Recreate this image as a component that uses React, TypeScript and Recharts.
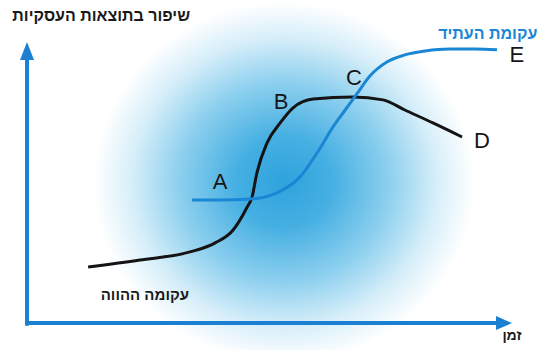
import React from 'react';
import { LineChart, Line, XAxis, YAxis, ReferenceLine, ReferenceDot } from 'recharts';

// Current curve (black) – time vs. business performance
const timeCurrent = [12.6, 23.3, 33.6, 38.8, 42.5, 45.4, 46.4, 47.4, 49.5, 52.2, 54.8, 59.0, 67.2, 73.4, 77.9, 83.7, 89.7];
const perfCurrent = [19.9, 22.4, 25.3, 28.5, 33.1, 41.3, 44.8, 53.4, 64.1, 71.2, 76.5, 79.7, 80.4, 79.4, 75.8, 71.2, 66.2];

// Future curve (blue)
const timeFuture = [34.0, 39.8, 46.0, 51.5, 56.3, 59.8, 63.1, 65.6, 68.0, 70.7, 74.2, 77.9, 82.1, 87.2, 92.4, 96.9];
const perfFuture = [43.8, 43.8, 44.1, 46.3, 52.0, 60.5, 69.8, 75.8, 81.5, 87.9, 92.9, 95.4, 96.8, 97.5, 97.5, 97.2];

// Point labels
const pointNames = ['A', 'B', 'C', 'D', 'E'];
const pointTime = [39.8, 52.4, 67.4, 93.8, 101.0];
const pointPerf = [50.5, 79.0, 87.5, 65.1, 95.4];

const titleY = 'שיפור בתוצאות העסקיות';
const titleX = 'זמן';
const nameFuture = 'עקומת העתיד';
const nameCurrent = 'עקומה ההווה';

const currentData = timeCurrent.map((t, i) => ({ t, v: perfCurrent[i] }));
const futureData = timeFuture.map((t, i) => ({ t, v: perfFuture[i] }));

const AXIS_BLUE = '#1b80d2';
const LINE_BLUE = '#1a86d4';
const FONT = '"Liberation Sans", "DejaVu Sans", Arial, sans-serif';

const UpArrow = (p: any) => (
  <polygon points={`${p.cx},${p.cy} ${p.cx - 7},${p.cy + 18} ${p.cx + 7},${p.cy + 18}`} fill={AXIS_BLUE} />
);
const RightArrow = (p: any) => (
  <polygon points={`${p.cx},${p.cy} ${p.cx - 16},${p.cy - 7} ${p.cx - 16},${p.cy + 7}`} fill={AXIS_BLUE} />
);

const TextShape = (txt: string, size: number, weight: string, fill: string) => (p: any) => (
  <text x={p.cx} y={p.cy} textAnchor="middle" dominantBaseline="central" fontFamily={FONT} fontSize={size} fontWeight={weight} fill={fill} direction="rtl">
    {txt}
  </text>
);

export default function App() {
  return (
    <div
      style={{
        position: 'absolute',
        left: 0,
        top: 0,
        width: 544,
        height: 350,
        background:
          'radial-gradient(ellipse 190px 180px at 284px 182px, #2ea3dd 0%, #45afe2 25%, #8ccfee 55%, #d6eef9 80%, #ffffff 100%)',
      }}
    >
      <LineChart width={544} height={350} margin={{ top: 42, right: 32, bottom: 27, left: 27 }}>
        <XAxis type="number" dataKey="t" domain={[0, 100]} hide allowDataOverflow />
        <YAxis type="number" dataKey="v" domain={[0, 100]} hide allowDataOverflow />
        <ReferenceLine segment={[{ x: 0, y: 0 }, { x: 97, y: 0 }]} stroke={AXIS_BLUE} strokeWidth={4} ifOverflow="visible" />
        <ReferenceLine segment={[{ x: 0, y: -1 }, { x: 0, y: 94 }]} stroke={AXIS_BLUE} strokeWidth={4} ifOverflow="visible" />
        <ReferenceDot x={0} y={100} r={0} shape={UpArrow} ifOverflow="visible" />
        <ReferenceDot x={100} y={0} r={0} shape={RightArrow} ifOverflow="visible" />
        <Line data={currentData} dataKey="v" type="monotone" stroke="#141414" strokeWidth={3} dot={false} isAnimationActive={false} />
        <Line data={futureData} dataKey="v" type="monotone" stroke={LINE_BLUE} strokeWidth={3} dot={false} isAnimationActive={false} />
        {pointNames.map((n, i) => (
          <ReferenceDot key={n} x={pointTime[i]} y={pointPerf[i]} r={0} ifOverflow="visible" shape={TextShape(n, 22, 'normal', '#161616')} />
        ))}
        <ReferenceDot x={15.3} y={109.6} r={0} ifOverflow="visible" shape={TextShape(titleY, 16, 'bold', '#1a1a1a')} />
        <ReferenceDot x={95} y={103} r={0} ifOverflow="visible" shape={TextShape(nameFuture, 16, 'bold', LINE_BLUE)} />
        <ReferenceDot x={24.3} y={10.3} r={0} ifOverflow="visible" shape={TextShape(nameCurrent, 15, 'bold', '#1a1a1a')} />
        <ReferenceDot x={100} y={-4.3} r={0} ifOverflow="visible" shape={TextShape(titleX, 14, 'bold', '#1a1a1a')} />
      </LineChart>
    </div>
  );
}
